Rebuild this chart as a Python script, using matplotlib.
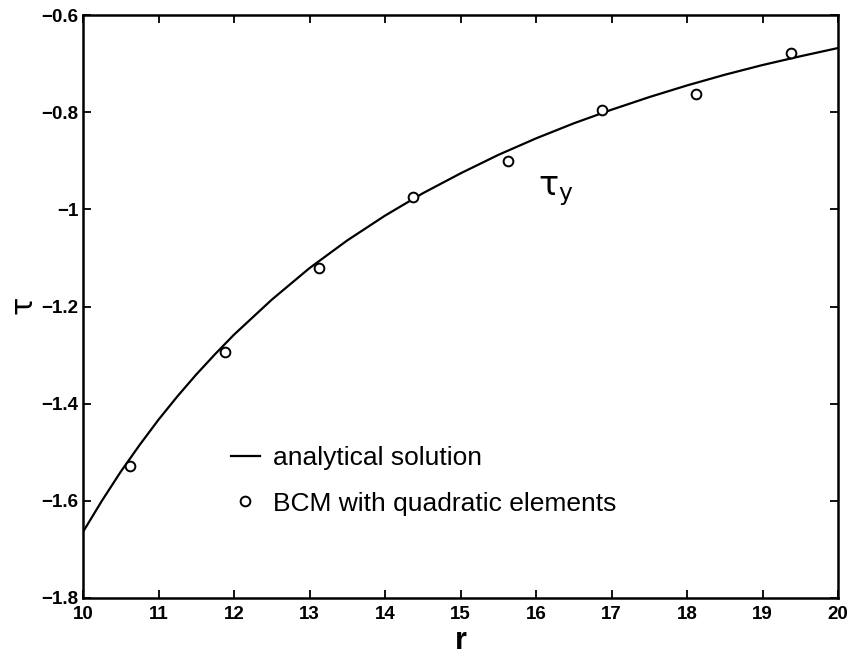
import matplotlib
matplotlib.use("Agg")
import matplotlib.pyplot as plt
from matplotlib.ticker import FixedLocator, FuncFormatter

plt.rcParams["font.family"] = ["Liberation Sans", "DejaVu Sans"]
plt.rcParams["mathtext.fontset"] = "custom"
plt.rcParams["mathtext.rm"] = "DejaVu Sans"

# analytical solution
r_curve = [10.0, 10.25, 10.5, 10.75, 11.0, 11.25, 11.5, 11.75, 12.0, 12.5,
           13.0, 13.5, 14.0, 14.5, 15.0, 15.5, 16.0, 16.5, 17.0, 17.5, 18.0,
           18.5, 19.0, 19.5, 20.0]
tau_curve = [-1.664, -1.600, -1.540, -1.485, -1.433, -1.385, -1.340, -1.298,
             -1.258, -1.186, -1.121, -1.064, -1.013, -0.967, -0.926, -0.888,
             -0.854, -0.823, -0.795, -0.769, -0.745, -0.723, -0.703, -0.685,
             -0.668]

# BCM with quadratic elements
r_bcm = [10.625, 11.875, 13.125, 14.375, 15.625, 16.875, 18.125, 19.375]
tau_bcm = [-1.528, -1.293, -1.121, -0.975, -0.900, -0.795, -0.762, -0.678]

xticks = [10, 11, 12, 13, 14, 15, 16, 17, 18, 19, 20]
yticks = [-1.8, -1.6, -1.4, -1.2, -1.0, -0.8, -0.6]


def fmt_y(v, pos):
    s = "%g" % v
    return s.replace("-", "\u2212")


fig = plt.figure(figsize=(8.52, 6.58), dpi=100)
ax = fig.add_axes([83 / 852, 1 - 598 / 658, 755 / 852, 583 / 658])

ax.plot(r_curve, tau_curve, color="black", linewidth=1.6,
        solid_joinstyle="round", label="analytical solution")
ax.plot(r_bcm, tau_bcm, linestyle="none", marker="o", markersize=7,
        markerfacecolor="white", markeredgecolor="black", markeredgewidth=1.4,
        label="BCM with quadratic elements")

ax.set_xlim(10, 20)
ax.set_ylim(-1.8, -0.6)
ax.xaxis.set_major_locator(FixedLocator(xticks))
ax.yaxis.set_major_locator(FixedLocator(yticks))
ax.yaxis.set_major_formatter(FuncFormatter(fmt_y))
ax.tick_params(direction="in", length=6, width=1.3, top=True, right=True,
               labelsize=13.5)
ax.tick_params(axis="x", pad=6)
for lab in ax.get_xticklabels() + ax.get_yticklabels():
    lab.set_fontweight("bold")
for sp in ax.spines.values():
    sp.set_linewidth(1.8)

ax.set_xlabel("r", fontsize=22, fontweight="bold", labelpad=2)
ax.set_ylabel(r"$\mathrm{\tau}$", fontsize=22, labelpad=1)

ax.text(16.03, -0.962, r"$\mathrm{\tau}_{\mathrm{y}}$", fontsize=24,
        va="center", ha="left")

ax.legend(frameon=False, loc="upper left", bbox_to_anchor=(0.182, 0.278),
          fontsize=19, handlelength=1.1, handletextpad=0.5, labelspacing=0.8,
          borderaxespad=0)

fig.savefig("out.png", dpi=100)
